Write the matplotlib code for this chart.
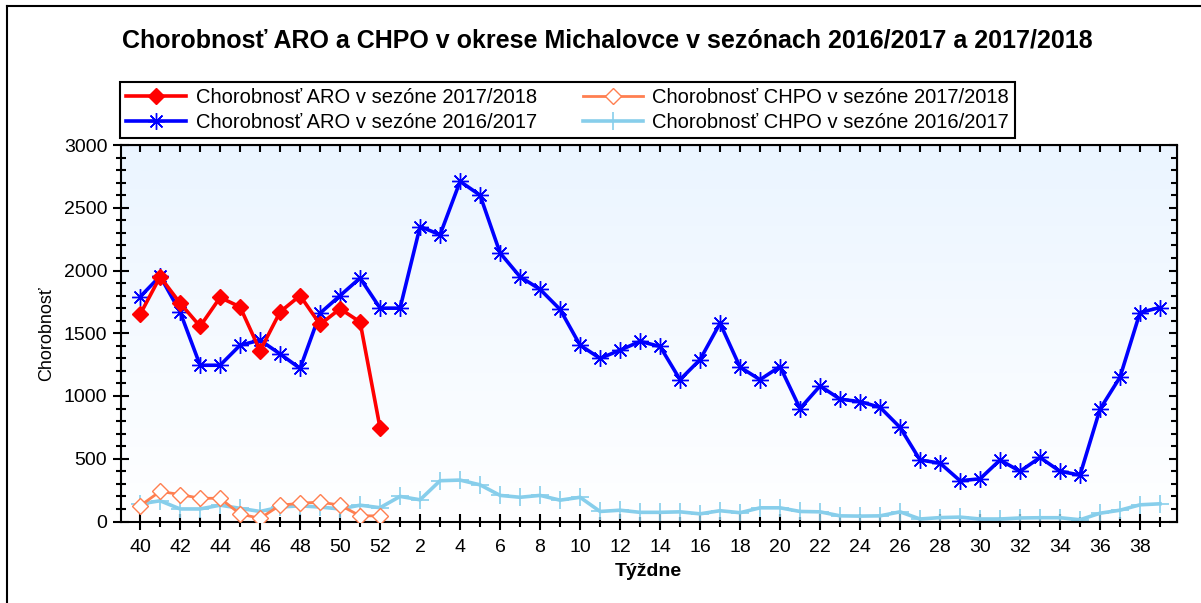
import numpy as np
import matplotlib
matplotlib.use('Agg')
import matplotlib.pyplot as plt
from matplotlib.lines import Line2D
from matplotlib.ticker import MultipleLocator, FixedLocator

plt.rcParams['font.family'] = ['Liberation Sans', 'DejaVu Sans']

# tyzdne sezony (40..52, 1..39)
weeks = list(range(40, 53)) + list(range(1, 40))

aro_1718 = [1650, 1950, 1740, 1555, 1785, 1710, 1360, 1670, 1800, 1570, 1695, 1590, 745]
aro_1617 = [1790, 1955, 1670, 1245, 1245, 1405, 1445, 1335, 1220, 1660, 1800, 1940, 1700,
            1700, 2350, 2285, 2710, 2600, 2140, 1950, 1850, 1690, 1405, 1300, 1365, 1435,
            1395, 1130, 1290, 1580, 1230, 1130, 1235, 900, 1080, 975, 955, 910, 750,
            490, 465, 325, 340, 490, 400, 510, 400, 370, 895, 1150, 1665, 1705]
chpo_1718 = [125, 240, 215, 185, 185, 60, 25, 130, 145, 155, 130, 45, 45]
chpo_1617 = [140, 165, 100, 100, 130, 105, 80, 115, 125, 115, 100, 130, 110,
             200, 173, 325, 330, 292, 208, 193, 208, 170, 193, 80, 90, 73,
             73, 77, 61, 86, 70, 109, 109, 80, 77, 45, 43, 45, 77,
             20, 31, 35, 20, 20, 28, 30, 30, 14, 66, 90, 133, 141]

labels = {
    'aro_1718': 'Chorobnosť ARO v sezóne 2017/2018',
    'aro_1617': 'Chorobnosť ARO v sezóne 2016/2017',
    'chpo_1718': 'Chorobnosť CHPO v sezóne 2017/2018',
    'chpo_1617': 'Chorobnosť CHPO v sezóne 2016/2017',
}

fig = plt.figure(figsize=(12.01, 6.03), dpi=100)
ax = fig.add_axes([120.5/1201, 1-521.5/603, (1177-120.5)/1201, (521.5-145)/603])

x = np.arange(len(weeks))
x18 = x[:len(aro_1718)]

# gradient background
grad = np.linspace(0, 1, 256).reshape(-1, 1)
top = np.array([0.92, 0.96, 1.0]); bot = np.array([1.0, 1.0, 1.0])
img = top[None, None, :]*(1-grad[:, :, None]) + bot[None, None, :]*grad[:, :, None]
ax.imshow(img, extent=[0, 1, 0, 1], transform=ax.transAxes, aspect='auto', zorder=0)

l1, = ax.plot(x18, aro_1718, color='#ff0000', lw=2.6, marker='D', ms=8, mec='#ff0000', zorder=5)
l2, = ax.plot(x, aro_1617, color='#0000ff', lw=2.6, marker=(8, 2, 0), ms=12, mew=1.0, zorder=4)
l3, = ax.plot(x18, chpo_1718, color='#ff7f50', lw=2.0, marker='D', ms=8, mfc='white', mec='#ff7f50', mew=1.0, zorder=3)
l4, = ax.plot(x, chpo_1617, color='#87ceeb', lw=2.6, marker='+', ms=13, mew=1.2, zorder=2)

ax.set_xlim(-0.98, 51.85)
ax.set_ylim(0, 3000)
ax.xaxis.set_major_locator(FixedLocator(x[::2]))
ax.xaxis.set_minor_locator(FixedLocator(x[1::2]))
ax.set_xticklabels([str(w) for w in weeks[::2]])
ax.yaxis.set_major_locator(MultipleLocator(500))
ax.yaxis.set_minor_locator(MultipleLocator(100))

ax.tick_params(which='both', direction='inout', width=1.5, labelsize=14)
ax.tick_params(axis='x', pad=7)
ax.tick_params(axis='y', pad=4)
ax.tick_params(which='major', length=11)
ax.tick_params(which='minor', length=7)
for s in ax.spines.values():
    s.set_linewidth(1.5)

axt = ax.secondary_xaxis('top')
axt.xaxis.set_major_locator(FixedLocator(x))
axt.tick_params(direction='in', length=5, width=1.5, labeltop=False)
axr = ax.secondary_yaxis('right')
axr.yaxis.set_major_locator(MultipleLocator(500))
axr.yaxis.set_minor_locator(MultipleLocator(100))
axr.tick_params(which='both', direction='in', width=1.5, labelright=False)
axr.tick_params(which='major', length=6)
axr.tick_params(which='minor', length=4)

ax.set_xlabel('Týždne', fontsize=14, fontweight='bold', labelpad=5)
ax.set_ylabel('Chorobnosť', fontsize=13, labelpad=6)

fig.text(607/1201, 1-40/603, 'Chorobnosť ARO a CHPO v okrese Michalovce v sezónach 2016/2017 a 2017/2018',
         ha='center', va='center', fontsize=18, fontweight='bold')

leg = fig.legend([l1, l2, l3, l4],
                 [labels['aro_1718'], labels['aro_1617'], labels['chpo_1718'], labels['chpo_1617']],
                 loc='upper left', bbox_to_anchor=(120/1201, 1-82/603), borderaxespad=0, ncol=2,
                 fontsize=14.5, handlelength=3.0, handletextpad=0.45, columnspacing=2.3,
                 borderpad=0.3, labelspacing=0.28, fancybox=False, framealpha=1,
                 edgecolor='black')
leg.get_frame().set_linewidth(1.5)

# outer frame lines (top and left)
fig.add_artist(Line2D([7/1201, 1], [1-6/603, 1-6/603], color='black', lw=1.5))
fig.add_artist(Line2D([7/1201, 7/1201], [0, 1-6/603], color='black', lw=1.5))

fig.savefig('out.png', dpi=100)
